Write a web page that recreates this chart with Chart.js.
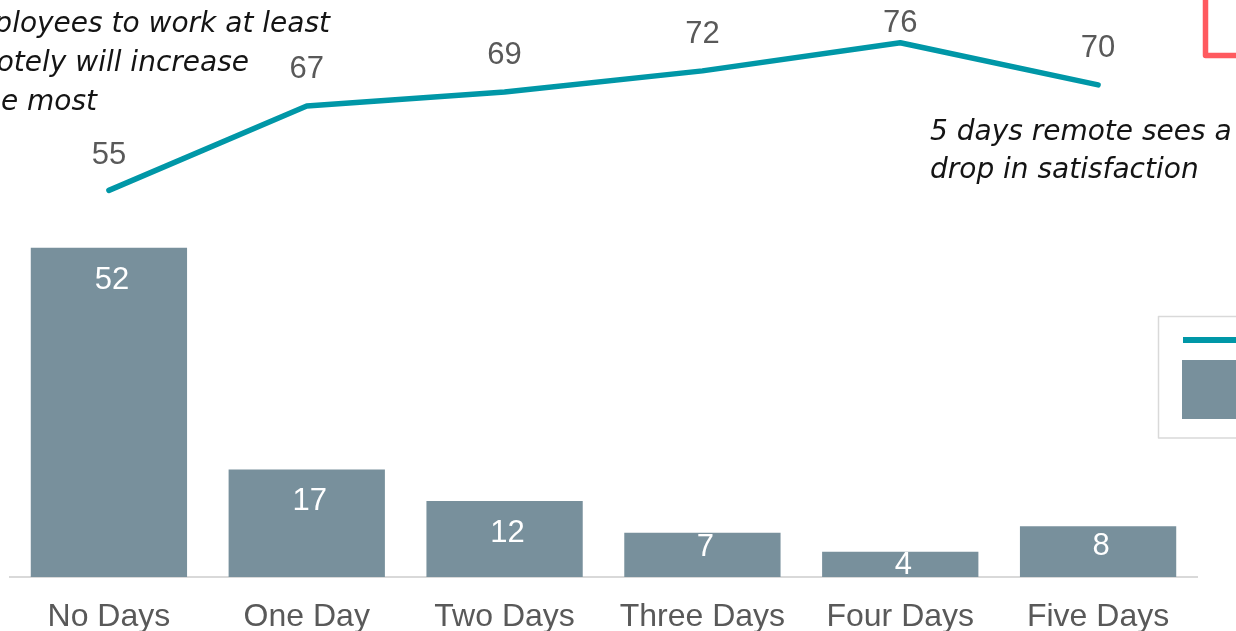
<!DOCTYPE html>
<html>
<head>
<meta charset="utf-8">
<script src="https://cdn.jsdelivr.net/npm/chart.js@4.4.1/dist/chart.umd.min.js"></script>
<style>
  html, body { margin: 0; padding: 0; background: #ffffff; overflow: hidden; }
  #wrap { position: absolute; left: 0; top: 0; width: 1236px; height: 700px; }
</style>
</head>
<body>
<div id="wrap"><canvas id="chart" width="1236" height="700"></canvas></div>
<script>
// Remote-work days per week
const categories = ['No Days', 'One Day', 'Two Days', 'Three Days', 'Four Days', 'Five Days'];
// Satisfaction score (line)
const satisfaction = [55, 67, 69, 72, 76, 70];
// Share of respondents (bars)
const respondents = [52, 17, 12, 7, 4, 8];

const noteLeft = ['Allowing employees to work at least', 'one day remotely will increase', 'satisfaction the most'];
const noteRight = ['5 days remote sees a', 'drop in satisfaction'];

const TEAL = '#0097a7';
const SLATE = '#78909c';
const LABEL_GREY = '#595959';
const NUM_FONT = '"Liberation Sans", Arial, sans-serif';
const NOTE_FONT = 'italic 28px "DejaVu Sans", "Open Sans", sans-serif';

// Draws the value labels, the notes, the callout frame and the key box
const overlay = {
  id: 'overlay',
  afterDatasetsDraw(chart, args, opts) {
    const ctx = chart.ctx;
    ctx.save();
    ctx.textAlign = 'center';
    ctx.textBaseline = 'middle';
    ctx.font = '31px ' + NUM_FONT;

    // line values above points
    const lineMeta = chart.getDatasetMeta(0);
    ctx.fillStyle = LABEL_GREY;
    lineMeta.data.forEach((pt, i) => {
      ctx.fillText(String(satisfaction[i]), pt.x, pt.y - opts.lineLabelLift[i]);
    });

    // bar values inside the bar tops
    const barMeta = chart.getDatasetMeta(1);
    ctx.fillStyle = '#ffffff';
    barMeta.data.forEach((bar, i) => {
      ctx.fillText(String(respondents[i]), bar.x + 3, bar.y + opts.barLabelDrop[i]);
    });

    // notes
    ctx.font = NOTE_FONT;
    ctx.fillStyle = '#141414';
    ctx.textBaseline = 'alphabetic';
    ctx.textAlign = 'right';
    const leftEnds = [330, 249, 97];
    noteLeft.forEach((t, i) => ctx.fillText(t, leftEnds[i], 32 + i * 39));
    ctx.textAlign = 'left';
    noteRight.forEach((t, i) => ctx.fillText(t, 930, 140 + i * 38));

    // red callout frame (top right)
    ctx.strokeStyle = '#ff5a5f';
    ctx.lineWidth = 5.5;
    ctx.lineJoin = 'round';
    ctx.strokeRect(1205.5, -60, 200, 115.5);

    // key box
    ctx.strokeStyle = '#d9d9d9';
    ctx.lineWidth = 1.5;
    ctx.strokeRect(1158.5, 316.5, 200, 121.5);
    ctx.fillStyle = TEAL;
    ctx.fillRect(1183, 337, 80, 6);
    ctx.fillStyle = SLATE;
    ctx.fillRect(1182, 360, 80, 59);

    ctx.restore();
  }
};

new Chart(document.getElementById('chart'), {
  data: {
    labels: categories,
    datasets: [
      {
        type: 'line',
        label: 'Satisfaction',
        data: satisfaction,
        yAxisID: 'yLine',
        borderColor: TEAL,
        borderWidth: 5.5,
        borderCapStyle: 'round',
        borderJoinStyle: 'round',
        tension: 0,
        pointRadius: 0,
        fill: false,
        order: 0
      },
      {
        type: 'bar',
        label: 'Respondents',
        data: respondents,
        yAxisID: 'yBar',
        backgroundColor: SLATE,
        barPercentage: 0.79,
        categoryPercentage: 1.0,
        order: 1
      }
    ]
  },
  options: {
    responsive: false,
    animation: false,
    layout: { padding: { left: 10, right: 39, top: 0, bottom: 0 } },
    plugins: {
      legend: { display: false },
      tooltip: { enabled: false },
      overlay: {
        lineLabelLift: [35, 37, 36, 36, 19, 36],
        barLabelDrop: [33, 32, 32, 15, 14, 20]
      }
    },
    scales: {
      x: {
        grid: { display: false, drawTicks: false },
        border: { display: true, color: '#d9d9d9', width: 2 },
        ticks: { color: LABEL_GREY, font: { family: NUM_FONT, size: 32 }, padding: 21, maxRotation: 0, autoSkip: false },
        afterFit(scale) { scale.height = 123; }
      },
      yLine: { display: false, min: 0, max: 82.08 },
      yBar: { display: false, min: 0, max: 91.15 }
    }
  },
  plugins: [overlay]
});
</script>
</body>
</html>
